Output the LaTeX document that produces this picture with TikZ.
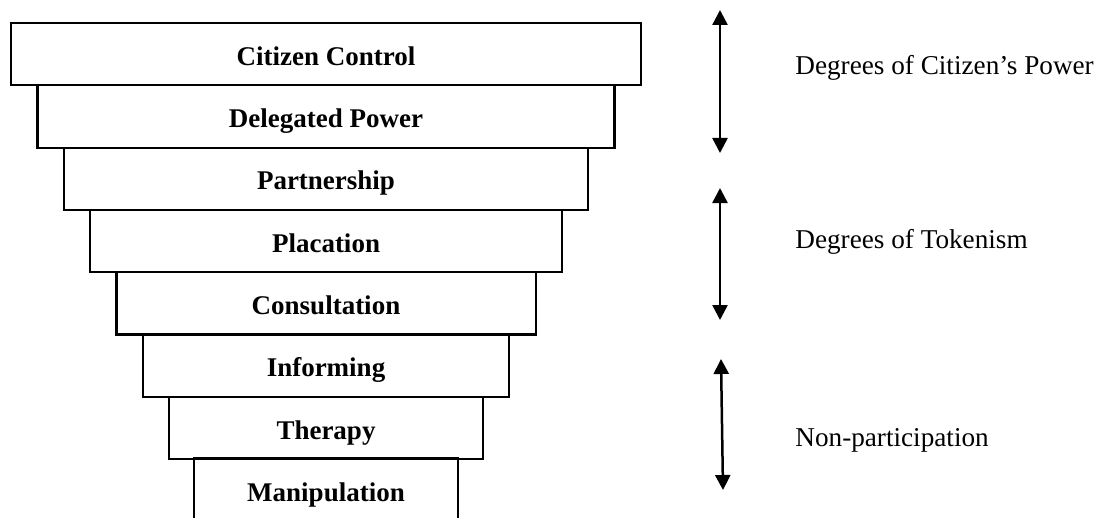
\documentclass[tikz,border=0pt]{standalone}
\usepackage{fontspec}
\setmainfont{Liberation Serif}
\usetikzlibrary{arrows.meta,positioning}
\tikzset{
	rung/.style={draw, line width=1.1pt, minimum height=31.15pt, inner sep=0pt,
		text height=11pt, text depth=0pt,
		font=\fontsize{13.5}{16}\selectfont\bfseries},
	opn/.style={rung, draw=none},
	lbl/.style={anchor=west, inner sep=0pt, font=\fontsize{13.6}{16}\selectfont},
	span/.style={line width=1.25pt, {Triangle[width=7.5pt,length=7.5pt]}-{Triangle[width=7.5pt,length=7.5pt]}},
}
\begin{document}
\begin{tikzpicture}[x=0.5pt, y=-0.5pt]
				\useasboundingbox (0,0) rectangle (1106,518);
				\node[rung, minimum width=315pt] at (326,54.2) (cc) {Citizen Control};
				\node[rung, minimum width=288.5pt] at (326,116.5) (dp) {Delegated Power};
				\node[rung, minimum width=262.2pt] at (326,178.8) (pa) {Partnership};
				\node[rung, minimum width=235.9pt] at (326,241.1) (pl) {Placation};
				\node[rung, minimum width=209.6pt] at (326,303.4) (co) {Consultation};
				\node[rung, minimum width=183.3pt] at (326,365.7) (in) {Informing};
				\node[rung, minimum width=157pt] at (326,428.0) (th) {Therapy};
				\node[opn, minimum width=131pt] at (326,490.3) (ma) {Manipulation};
				\draw[line width=1.1pt] (ma.south west) -- (ma.north west) -- (ma.north east) -- (ma.south east);
				% arrows and their labels
				\coordinate (p1) at (720,10);
				\coordinate (p2) at (720,153);
				\coordinate (t1) at (720,188);
				\coordinate (t2) at (720,320);
				\coordinate (n1) at (721,359);
				\coordinate (n2) at (723,490);
				\draw[span] (p2) -- (p1);
				\draw[span] (t2) -- (t1);
				\draw[span] (n2) -- (n1);
				\node[lbl] at (795,68) (lp) {Degrees of Citizen’s Power};
				\node[lbl] at (795,242) (lt) {Degrees of Tokenism};
				\node[lbl] at (795,440) (ln) {Non-participation};
			\end{tikzpicture}
\end{document}
